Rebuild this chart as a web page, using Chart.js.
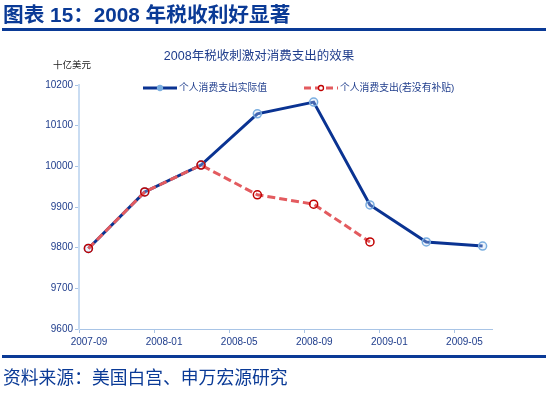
<!DOCTYPE html>
<html>
<head>
<meta charset="utf-8">
<script src="https://cdn.jsdelivr.net/npm/chart.js@4"></script>
<style>
body{margin:0;width:548px;height:396px;background:#fff;position:relative;overflow:hidden;
font-family:"Liberation Sans","Noto Sans CJK SC",sans-serif;}
#head{position:absolute;left:3px;top:3px;font-size:20.7px;font-weight:bold;color:#0a3a96;line-height:24px;white-space:nowrap;}
#headLine{position:absolute;left:2px;top:28px;width:544px;height:3px;background:#0a3a96;}
#ctitle{position:absolute;left:0;top:48px;width:518px;text-align:center;font-size:12.5px;color:#1f3d8c;line-height:16px;}
#unit{position:absolute;left:53px;top:59px;font-size:9.5px;color:#222;line-height:12px;}
#footLine{position:absolute;left:2px;top:355px;width:544px;height:3px;background:#0a3a96;}
#source{position:absolute;left:3px;top:367px;font-size:17.8px;color:#0a3a96;line-height:22px;white-space:nowrap;}
#wrap{position:absolute;left:0;top:0;width:548px;height:396px;}
</style>
</head>
<body>
<div id="wrap"><canvas id="c" width="548" height="396"></canvas></div>
<div id="head">图表 15：2008 年税收利好显著</div>
<div id="headLine"></div>
<div id="ctitle">2008年税收刺激对消费支出的效果</div>
<div id="unit">十亿美元</div>
<div id="footLine"></div>
<div id="source">资料来源：美国白宫、申万宏源研究</div>
<script>
// data (quarterly, billions USD)
const dates = ["2007-09-16","2007-12-16","2008-03-16","2008-06-16","2008-09-16","2008-12-16","2009-03-16","2009-06-16"];
const actual = [9798, 9937, 10003, 10129, 10158, 9905, 9814, 9804];
const noRebate = [9798, 9937, 10003, 9930, 9907, 9814];
const seriesNames = ["个人消费支出实际值", "个人消费支出(若没有补贴)"];
const yTicks = [9600, 9700, 9800, 9900, 10000, 10100, 10200];

// axis starts at 2007-09, ends 2009-07
const startY = 2007, startM = 9;
function toMonths(s){
  const p = s.split("-").map(Number);
  return (p[0]-startY)*12 + (p[1]-startM) + ((p[2]||1)-1)/30;
}
function monthLabel(v){
  const t = startM - 1 + Math.round(v);
  const y = startY + Math.floor(t/12);
  const m = t%12 + 1;
  return y + "-" + (m<10 ? "0"+m : m);
}

const blue = "#0a3392";
const red = "#e35b5f";
const tickCol = "#1f3d8c";
const axisCol = "#a8c4e6";

const legendPlugin = {
  id:"lineLegend",
  afterDraw(chart){
    const ctx = chart.ctx;
    const items = [
      {x:143, y:88, color:blue, dash:[], pt:"#7aaee0", fill:"#7aaee0", text:seriesNames[0]},
      {x:304, y:88, color:red, dash:[7,4], pt:"#c00000", fill:null, text:seriesNames[1]}
    ];
    ctx.save();
    items.forEach(function(it){
      ctx.beginPath();
      ctx.setLineDash(it.dash);
      ctx.strokeStyle = it.color;
      ctx.lineWidth = 3;
      ctx.moveTo(it.x, it.y);
      ctx.lineTo(it.x+34, it.y);
      ctx.stroke();
      ctx.setLineDash([]);
      ctx.beginPath();
      ctx.arc(it.x+17, it.y, 2.5, 0, Math.PI*2);
      if(it.fill){ ctx.fillStyle = it.fill; ctx.fill(); }
      else { ctx.fillStyle = "#fff"; ctx.fill(); }
      ctx.lineWidth = 1.3;
      ctx.strokeStyle = it.pt;
      ctx.stroke();
      ctx.fillStyle = tickCol;
      ctx.font = '9.8px "Liberation Sans","Noto Sans CJK SC"';
      ctx.textBaseline = "middle";
      ctx.textAlign = "left";
      ctx.fillText(it.text, it.x+36, it.y+0.5);
    });
    ctx.restore();
  }
};

new Chart(document.getElementById("c"), {
  type:"line",
  data:{
    datasets:[
      {
        label:seriesNames[1],
        data:noRebate.map(function(v,i){ return {x:toMonths(dates[i]), y:v}; }),
        borderColor:red,
        borderWidth:3,
        borderDash:[8,4],
        pointRadius:4,
        pointBorderWidth:1.5,
        pointBorderColor:"#c00000",
        pointBackgroundColor:"rgba(255,255,255,0)",
        order:1
      },
      {
        label:seriesNames[0],
        data:actual.map(function(v,i){ return {x:toMonths(dates[i]), y:v}; }),
        borderColor:blue,
        borderWidth:3,
        pointRadius:4,
        pointBorderWidth:1.5,
        pointBorderColor:"#7aaee0",
        pointBackgroundColor:"rgba(200,220,245,0.3)",
        order:2
      }
    ]
  },
  options:{
    responsive:false,
    animation:false,
    layout:{padding:{left:0, right:56, top:85, bottom:40}},
    plugins:{legend:{display:false}, title:{display:false}, tooltip:{enabled:false}},
    scales:{
      x:{
        type:"linear",
        min:0, max:22,
        afterFit(s){ s.height = 27; },
        ticks:{
          stepSize:4,
          includeBounds:false,
          labelOffset:10,
          padding:3,
          maxRotation:0,
          color:tickCol,
          font:{family:"Liberation Sans", size:10},
          callback:function(v){ return monthLabel(v); }
        },
        grid:{drawOnChartArea:false, tickLength:4, tickColor:axisCol},
        border:{color:axisCol, width:1}
      },
      y:{
        min:yTicks[0], max:yTicks[yTicks.length-1],
        afterFit(s){ s.width = 79; },
        afterBuildTicks(s){ s.ticks = yTicks.map(function(v){ return {value:v}; }); },
        ticks:{
          padding:2,
          color:tickCol,
          font:{family:"Liberation Sans", size:10},
          callback:function(v){ return String(v); }
        },
        grid:{drawOnChartArea:false, tickLength:4, tickColor:axisCol},
        border:{color:"#c9dcf2", width:2}
      }
    }
  },
  plugins:[legendPlugin]
});
</script>
</body>
</html>
